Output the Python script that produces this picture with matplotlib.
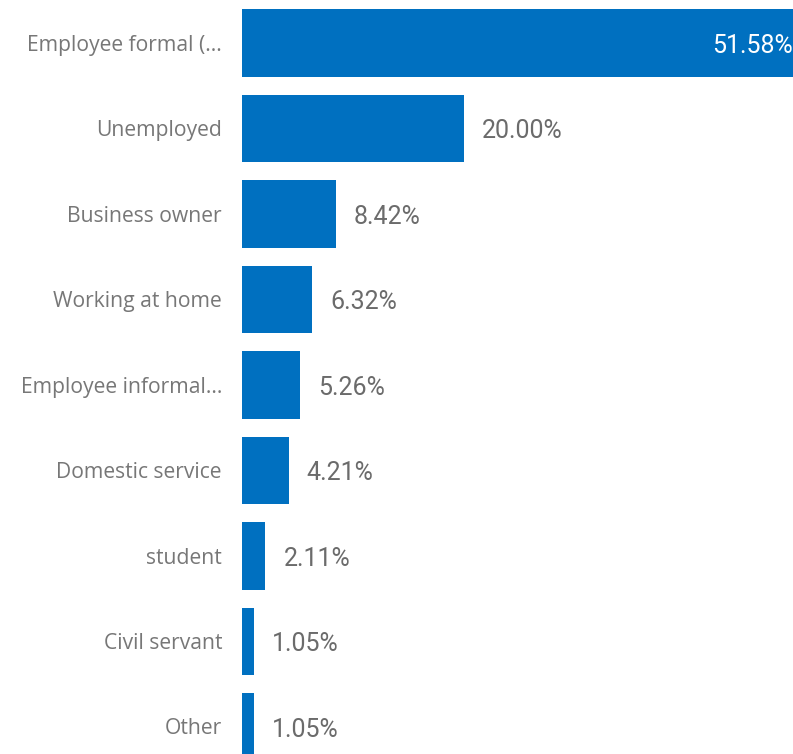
import matplotlib
matplotlib.use("Agg")
import matplotlib.pyplot as plt

# data
categories = ["Employee formal (...", "Unemployed", "Business owner", "Working at home",
              "Employee informal...", "Domestic service", "student", "Civil servant", "Other"]
values = [51.58, 20.00, 8.42, 6.32, 5.26, 4.21, 2.11, 1.05, 1.05]

fig = plt.figure(figsize=(7.93, 7.54), dpi=100)
ax = fig.add_axes([242/793, 0, 1 - 242/793, 1])

pos = list(range(len(values)))
ax.barh(pos, values, height=0.795, color="#0070C0")
ax.set_xlim(0, 49.6)
ax.set_ylim(8.316, -0.503)

for i, v in enumerate(values):
    lab = "%.2f%%" % v
    if v > 49.6:
        # biggest bar runs past the edge, label sits inside it
        ax.annotate(lab, (1.0, i), xycoords=ax.get_yaxis_transform(), xytext=(0, -2),
                    textcoords="offset points", ha="right", va="center",
                    color="white", fontsize=18, family="Roboto")
    else:
        ax.annotate(lab, (v, i), xytext=(13, -2), textcoords="offset points",
                    ha="left", va="center", color="#6b6b6b", fontsize=18, family="Roboto")

for i, c in enumerate(categories):
    fig.text(222/793, 1 - (45 + 85.5*i)/754, c, ha="right", va="center",
             color="#777777", fontsize=15.2, family="Open Sans")

ax.axis("off")
fig.savefig("out.png", dpi=100)
